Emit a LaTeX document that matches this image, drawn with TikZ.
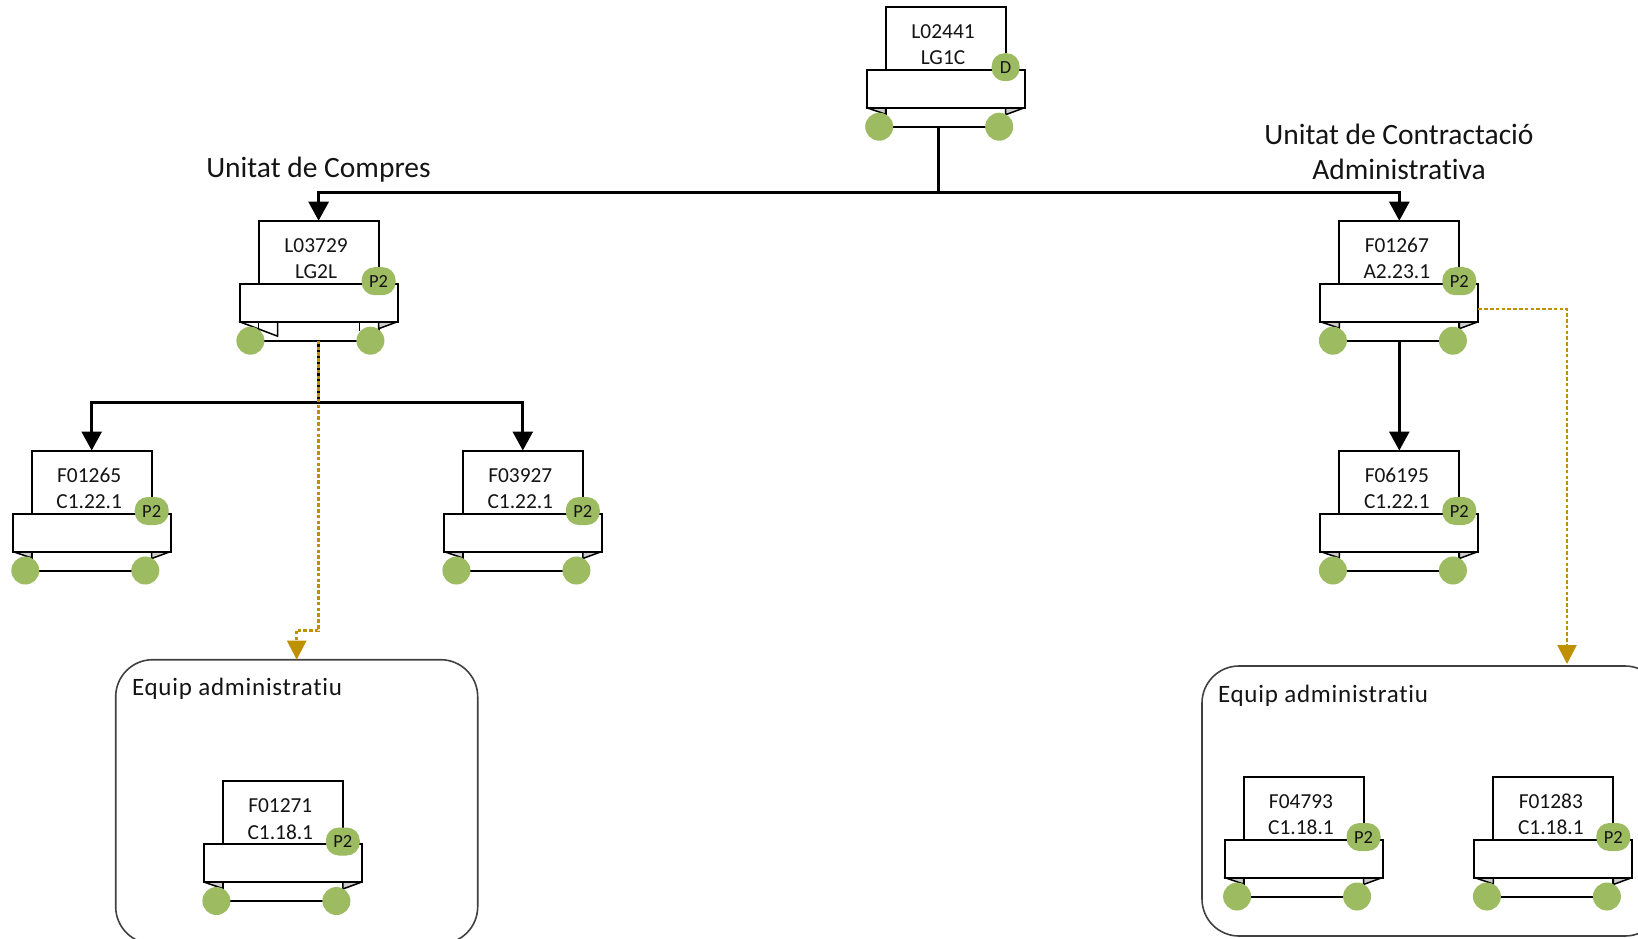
\documentclass[tikz,border=0pt]{standalone}
\usepackage{fontspec}
\setmainfont{Carlito}[Ligatures=CommonOff]
\usetikzlibrary{arrows.meta,calc}
\definecolor{leaf}{HTML}{9DBB61}
\definecolor{gold}{HTML}{BF9000}
\definecolor{foldgrey}{HTML}{D0CECE}
\definecolor{ink}{HTML}{141414}
\tikzset{
  every node/.style={inner sep=0pt,outer sep=0pt,text=ink},
  backbox/.style={draw=black,fill=white,line width=2pt,minimum width=120pt,minimum height=120pt,anchor=north},
  bandbox/.style={draw=black,fill=white,line width=2pt,minimum width=158pt,minimum height=38pt,anchor=north},
  foldshape/.style={draw=black,line width=1.5pt,fill=foldgrey,line join=round},
  foldwhite/.style={draw=black,line width=1.5pt,fill=white,line join=round},
  hand/.style={circle,fill=leaf,minimum size=28pt},
  badgeD/.style={rounded corners=13pt,fill=leaf,minimum width=28pt,minimum height=28pt,font=\fontsize{18.5}{20}\selectfont},
  badgeP/.style={rounded corners=13pt,fill=leaf,minimum width=34pt,minimum height=28pt,font=\fontsize{18.5}{20}\selectfont},
  code/.style={font=\fontsize{21.4}{24}\selectfont},
  heading/.style={font=\fontsize{29.5}{35}\selectfont,align=center,text=ink},
  teamtitle/.style={font=\addfontfeature{LetterSpace=3}\fontsize{25}{28}\selectfont,anchor=west,text=ink},
  team/.style={draw=black!75,line width=1.6pt,rounded corners=37pt,anchor=north west},
  solidline/.style={draw=black,line width=2.8pt},
  solidarrow/.style={solidline,-{Triangle[length=19pt,width=20pt]}},
  goldline/.style={draw=gold,line width=2.6pt,dash pattern=on 3.6pt off 2.2pt},
  goldarrow/.style={goldline,-{Triangle[length=19pt,width=19pt,fill=gold,sep=0pt]}},
}
\def\hs{0}
% #1 name, #2 centre x, #3 top y, #4 #5 text, #6 badge style, #7 badge text, #8 extra folds
\newcommand{\orgunit}[8]{%
  \node[backbox] (#1) at (#2,#3) {};
  \path[foldshape] ($(#1.north)+(-79,101)$) -- ($(#1.north)+(-60,107.5)$) -- ($(#1.north)+(-60,101)$) -- cycle;
  \path[foldshape] ($(#1.north)+(79,101)$) -- ($(#1.north)+(60,108)$) -- ($(#1.north)+(60,101)$) -- cycle;
  #8
  \node[bandbox] (#1-band) at ($(#1.north)+(0,63)$) {};
  \node[code] (#1-top) at ($(#1.north)+(-2.5,25)$) {#4};
  \node[code] (#1-bot) at ($(#1.north)+(-2.5,51.2)$) {#5};
  \node[hand] (#1-left) at ($(#1.north)+(-66.4+\hs,120)$) {};
  \node[hand] (#1-right) at ($(#1.north)+(53.6+\hs,120)$) {};
  \node[#6] (#1-badge) at ($(#1.north)+(60,60.5)$) {#7};
}
\begin{document}
\begin{tikzpicture}[x=1pt,y=-1pt]
\useasboundingbox (0,0) rectangle (1638,938);
\begin{scope}
\clip (0,0) rectangle (1638,938);

% teams
\node[team,minimum width=362pt,minimum height=284pt] (teamL) at (115.7,659.7) {};
\node[team,minimum width=460pt,minimum height=270pt] (teamR) at (1202,666) {};
\node[teamtitle] (teamLt) at (132,689) {Equip administratiu};
\node[teamtitle] (teamRt) at (1218,696) {Equip administratiu};

% units
\orgunit{L02441}{945.6}{6.7}{L02441}{LG1C}{badgeD}{D}{}
\def\hs{-1.8}
\orgunit{L03729}{318.6}{220.7}{L03729}{LG2L}{badgeP}{P2}{%
  \path[foldwhite] ($(L03729.north)+(-79,101)$) -- ($(L03729.north)+(-41,115.5)$) -- ($(L03729.north)+(-41,101)$) -- cycle;
  \draw[line width=1.5pt] ($(L03729.north)+(-60,101)$) -- ($(L03729.north)+(-60,108)$);
  \draw[line width=1.5pt] ($(L03729.north)+(41,101)$) -- ($(L03729.north)+(41,110)$);
}
\def\hs{0}
\orgunit{F01267}{1399.3}{220.7}{F01267}{A2.23.1}{badgeP}{P2}{}
\orgunit{F01265}{91.7}{450.5}{F01265}{C1.22.1}{badgeP}{P2}{}
\orgunit{F03927}{522.8}{450.5}{F03927}{C1.22.1}{badgeP}{P2}{}
\orgunit{F06195}{1399.3}{450.5}{F06195}{C1.22.1}{badgeP}{P2}{}
\orgunit{F01271}{282.8}{781}{F01271}{C1.18.1}{badgeP}{P2}{}
\orgunit{F04793}{1303.5}{776.5}{F04793}{C1.18.1}{badgeP}{P2}{}
\orgunit{F01283}{1553.3}{776.5}{F01283}{C1.18.1}{badgeP}{P2}{}

% headings
\node[heading] (headL) at (318.5,170) {Unitat de Compres};
\node[heading] (headR) at (1399,152) {Unitat de Contractació\\Administrativa};

% connectors
\coordinate (topout) at (938.3,126.7);
\coordinate (bus) at (938.3,192.3);
\coordinate (bus2) at (318.6,402.3);
\draw[solidline] (topout) -- (bus);
\draw[solidarrow] (bus) -| (L03729.north);
\draw[solidarrow] (bus) -| (F01267.north);
\draw[solidline] (L03729.south) -- (bus2);
\draw[solidarrow] (bus2) -| (F01265.north);
\draw[solidarrow] (bus2) -| (F03927.north);
\draw[solidarrow] (F01267.south) -- (F06195.north);

\coordinate (goldL) at (296.7,630.7);
\coordinate (goldR) at (1567,309);
\coordinate (goldS) at (F01267-band.east |- goldR);
\draw[goldline] (L03729.south) |- (goldL);
\draw[goldarrow] (goldL) -- (goldL |- teamL.north);
\draw[goldarrow] (goldS) -- (goldR) -- (1567,664);
\end{scope}
\end{tikzpicture}
\end{document}
